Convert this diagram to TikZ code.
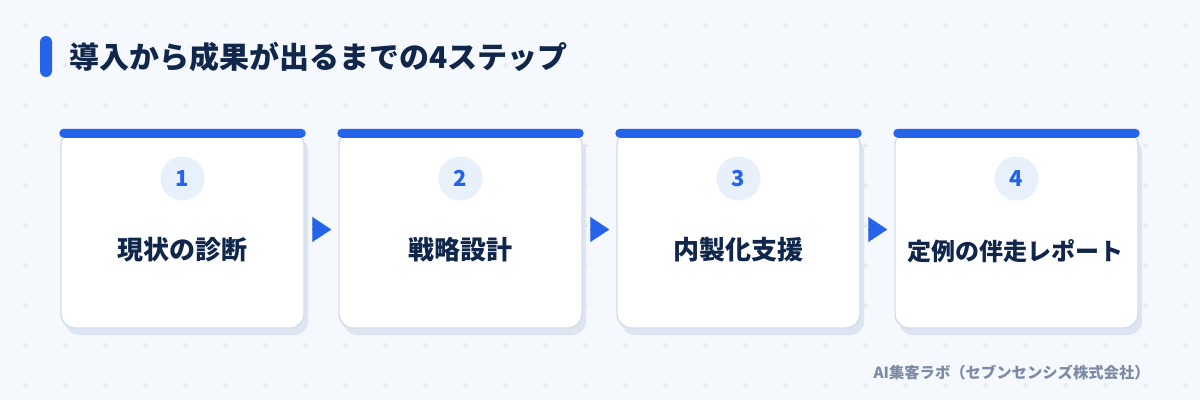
\documentclass[tikz,border=0pt]{standalone}
\usepackage{fontspec}
\setmainfont{Noto Sans CJK JP}
\usetikzlibrary{positioning, arrows.meta, calc, shadows}
\definecolor{bgc}{HTML}{F5F8FD}
\definecolor{gridc}{HTML}{D9E1EC}
\definecolor{stepblue}{HTML}{2563EB}
\definecolor{ink}{HTML}{10264A}
\definecolor{cardline}{HTML}{D3DEEC}
\definecolor{shadowc}{HTML}{DCE5F1}
\definecolor{numbg}{HTML}{E8F0FC}
\definecolor{footc}{HTML}{7D8BA5}
\tikzset{
    card/.style={draw=cardline, line width=1.1pt, fill=white, rounded corners=10.5pt,
        minimum width=182.25pt, minimum height=147.75pt,
        drop shadow={shadow xshift=3pt, shadow yshift=-5.25pt, fill=shadowc, opacity=1}},
    num/.style={circle, fill=numbg, minimum size=33pt, inner sep=0pt, text=stepblue,
        font=\bfseries\fontsize{16.5}{16.5}\selectfont},
    lab/.style={text=ink, inner sep=0pt, font=\bfseries\fontsize{19.5}{19.5}\selectfont},
    flow/.style={draw=stepblue, line width=0.1pt, -{Triangle[length=14.25pt,width=18.75pt]},
        shorten <=6pt, shorten >=5.25pt},
    bar/.style={fill=stepblue, rounded corners=3.4pt},
}

\begin{document}
\begin{tikzpicture}[x=0.75pt, y=-0.75pt]
        % background and dot grid
        \fill[bgc] (0,0) rectangle (1200,400);
        \foreach \i in {0,...,29} {
            \foreach \j in {0,...,9} {
                \draw[gridc, line width=0.75pt] (25+40*\i-2.5,25+40*\j) -- ++(5,0)
                    (25+40*\i,25+40*\j-2.5) -- ++(0,5);
            }
        }

        % title
        \fill[bar, rounded corners=4.5pt] (40,36) rectangle (52,77);
        \coordinate (mark) at (52,57);
        \node[anchor=west, inner sep=0pt, text=ink, font=\bfseries\fontsize{22.5}{22.5}\selectfont]
            (title) at ($(mark)+(17,0)$) {導入から成果が出るまでの4ステップ};

        % cards
        \node[card] (card1) at (182.5, 229.5) {}; % diagnose
        \node[card] (card2) at (460.5, 229.5) {}; % strategy
        \node[card] (card3) at (738.5, 229.5) {}; % in-house
        \node[card] (card4) at (1016.5, 229.5) {}; % report

        \fill[bar] ($(card1.north west)+(-1,-1.5)$) rectangle ($(card1.north east)+(1,7.5)$);
        \fill[bar] ($(card2.north west)+(-1,-1.5)$) rectangle ($(card2.north east)+(1,7.5)$);
        \fill[bar] ($(card3.north west)+(-1,-1.5)$) rectangle ($(card3.north east)+(1,7.5)$);
        \fill[bar] ($(card4.north west)+(-1,-1.5)$) rectangle ($(card4.north east)+(1,7.5)$);

        \node[num] (n1) at ($(card1.center)+(0,-51)$) {1};
        \node[num] (n2) at ($(card2.center)+(0,-51)$) {2};
        \node[num] (n3) at ($(card3.center)+(0,-51)$) {3};
        \node[num] (n4) at ($(card4.center)+(0,-51)$) {4};

        \node[lab] (l1) at ($(card1.center)+(0,20.5)$) {現状の診断};
        \node[lab] (l2) at ($(card2.center)+(0,20.5)$) {戦略設計};
        \node[lab] (l3) at ($(card3.center)+(0,20.5)$) {内製化支援};
        \node[lab, font=\bfseries\fontsize{18}{18}\selectfont]
            (l4) at ($(card4.center)+(-1,21.5)$) {定例の伴走レポート};

        \draw
            (card1.east) edge[flow] (card2.west)
            (card2.east) edge[flow] (card3.west)
            (card3.east) edge[flow] (card4.west)
            ;

        % footer
        \node[anchor=east, inner sep=0pt, text=footc, font=\bfseries\fontsize{11.5}{11.5}\selectfont]
            (credit) at (1150,373) {AI集客ラボ（セブンセンシズ株式会社）};
\end{tikzpicture}
\end{document}
